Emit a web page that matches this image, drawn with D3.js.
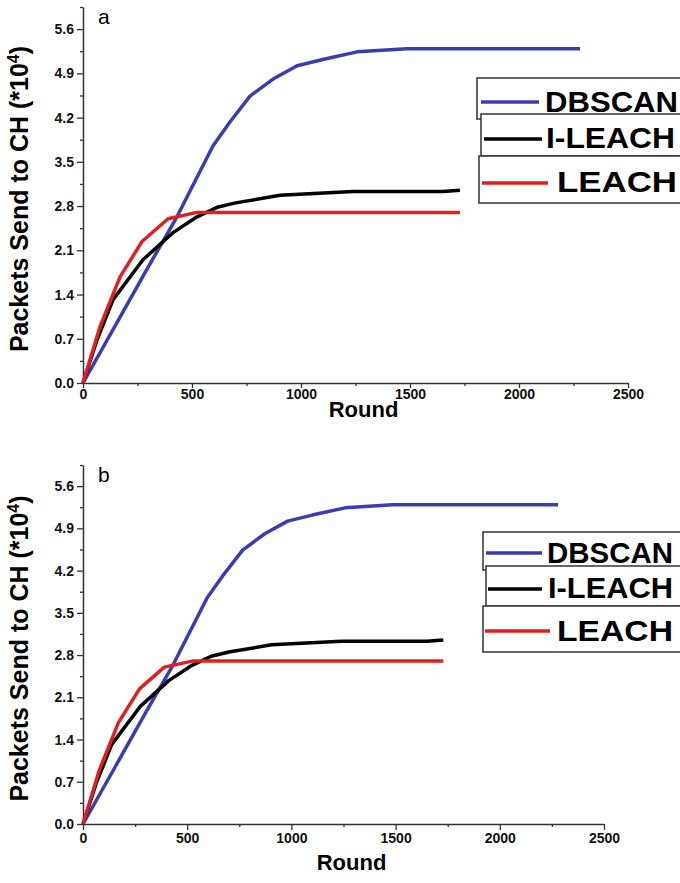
<!DOCTYPE html>
<html>
<head>
<meta charset="utf-8">
<script src="https://cdn.jsdelivr.net/npm/d3@7"></script>
<style>
  body { margin: 0; background: #fff; }
  svg { display: block; font-family: "Liberation Sans", Arial, sans-serif; }
</style>
</head>
<body>
<div id="chart"></div>
<script>
// values (rounds, packets x10^4)
var dbscanRound = [0, 150, 300, 431, 596, 674, 766, 872, 982, 1100, 1257, 1486, 1800, 2280];
var dbscanPkts  = [0, 0.92, 1.84, 2.63, 3.75, 4.13, 4.54, 4.81, 5.02, 5.12, 5.24, 5.29, 5.29, 5.29];

var ileachRound = [0, 64, 138, 275, 413, 523, 615, 700, 904, 1239, 1651, 1729];
var ileachPkts  = [0, 0.68, 1.32, 1.95, 2.38, 2.63, 2.78, 2.85, 2.97, 3.03, 3.03, 3.05];

var leachRound = [0, 78, 170, 271, 390, 523, 674, 1729];
var leachPkts  = [0, 0.89, 1.68, 2.24, 2.60, 2.70, 2.70, 2.70];

var seriesNames = ["DBSCAN", "I-LEACH", "LEACH"];
var xTicks = [0, 500, 1000, 1500, 2000, 2500];
var yTicks = [0.0, 0.7, 1.4, 2.1, 2.8, 3.5, 4.2, 4.9, 5.6];

var series = [
	{ name: seriesNames[0], color: "#3b3cb4", xs: dbscanRound, ys: dbscanPkts },
	{ name: seriesNames[1], color: "#000000", xs: ileachRound, ys: ileachPkts },
	{ name: seriesNames[2], color: "#e0201e", xs: leachRound, ys: leachPkts }
];

var svg = d3.select("#chart")
	.append("svg")
	.attr("width", 680)
	.attr("height", 883);

// one panel, both are the same data drawn at slightly different sizes
function panel(p) {
	var x = d3.scaleLinear().domain([0, 2500]).range([p.left, p.right]);
	var y = d3.scaleLinear().domain([0, 5.95]).range([p.bottom, p.top]);
	var g = svg.append("g");

	// minor ticks
	g.append("g")
		.attr("transform", "translate(0," + p.bottom + ")")
		.call(d3.axisBottom(x).tickValues([250, 750, 1250, 1750, 2250]).tickSize(3).tickFormat(""))
		.call(function(a) { a.select(".domain").remove(); });
	g.append("g")
		.attr("transform", "translate(" + p.left + ",0)")
		.call(d3.axisLeft(y).tickValues([0.35, 1.05, 1.75, 2.45, 3.15, 3.85, 4.55, 5.25, 5.95]).tickSize(3).tickFormat(""))
		.call(function(a) { a.select(".domain").remove(); });

	g.append("g")
		.attr("transform", "translate(0," + p.bottom + ")")
		.call(d3.axisBottom(x).tickValues(xTicks).tickSize(p.xTick).tickSizeOuter(0).tickPadding(p.xPad).tickFormat(d3.format("d")));
	g.append("g")
		.attr("transform", "translate(" + p.left + ",0)")
		.call(d3.axisLeft(y).tickValues(yTicks).tickSize(6).tickSizeOuter(0).tickPadding(3).tickFormat(d3.format(".1f")));

	g.selectAll(".tick line").attr("stroke", "#333").attr("stroke-width", 1.3);
	g.selectAll(".domain").attr("stroke", "#333").attr("stroke-width", 1.5);
	g.selectAll(".tick text")
		.attr("fill", "#111")
		.style("font-size", "14px")
		.style("font-weight", "bold");

	// axis titles
	g.append("text")
		.attr("x", (p.left + p.right) / 2 + 8)
		.attr("y", p.bottom + p.roundDy)
		.attr("text-anchor", "middle")
		.style("font-size", "22px")
		.style("font-weight", "bold")
		.text("Round");

	var yl = g.append("text")
		.attr("transform", "translate(28," + ((p.top + p.bottom) / 2 + 4) + ") rotate(-90)")
		.attr("text-anchor", "middle")
		.style("font-size", "25px")
		.style("font-weight", "bold");
	yl.append("tspan").text("Packets Send to CH (*10");
	yl.append("tspan").attr("dy", -9).style("font-size", "16px").text("4");
	yl.append("tspan").attr("dy", 9).text(")");

	g.append("text")
		.attr("x", p.left + 15)
		.attr("y", p.top + 17)
		.style("font-size", "21px")
		.text(p.label);

	var line = d3.line()
		.x(function(d) { return x(d[0]); })
		.y(function(d) { return y(d[1]); });

	series.forEach(function(s) {
		g.append("path")
			.datum(d3.zip(s.xs, s.ys))
			.attr("fill", "none")
			.attr("stroke", s.color)
			.attr("stroke-width", 3.5)
			.attr("stroke-linejoin", "round")
			.attr("d", line);
	});

	// legend: three staggered boxes, running off the right edge
	p.legend.forEach(function(L, i) {
		var s = series[i];
		g.append("rect")
			.attr("x", L.bx).attr("y", L.by)
			.attr("width", 700 - L.bx).attr("height", L.bh)
			.attr("fill", "#fff")
			.attr("stroke", "#333")
			.attr("stroke-width", 1.5);
		g.append("line")
			.attr("x1", L.lx1).attr("x2", L.lx2)
			.attr("y1", L.ly).attr("y2", L.ly)
			.attr("stroke", s.color)
			.attr("stroke-width", 3.5);
		g.append("text")
			.attr("x", L.tx).attr("y", L.ty)
			.attr("textLength", L.tw)
			.attr("lengthAdjust", "spacingAndGlyphs")
			.style("font-size", "30px")
			.style("font-weight", "bold")
			.text(s.name);
	});
}

panel({
	label: "a", left: 83, right: 628, top: 7, bottom: 383,
	xTick: 5, xPad: 1, roundDy: 34,
	legend: [
		{ bx: 477, by: 78, bh: 41, lx1: 481, lx2: 539, ly: 102, tx: 545, ty: 112, tw: 133 },
		{ bx: 481, by: 114, bh: 42, lx1: 484, lx2: 542, ly: 139, tx: 546, ty: 148, tw: 129 },
		{ bx: 479, by: 156, bh: 47, lx1: 482, lx2: 548, ly: 183, tx: 557, ty: 192, tw: 120 }
	]
});

panel({
	label: "b", left: 83, right: 604, top: 465, bottom: 824,
	xTick: 6, xPad: 3, roundDy: 46,
	legend: [
		{ bx: 483, by: 532, bh: 38, lx1: 486, lx2: 542, ly: 553, tx: 547, ty: 563, tw: 126 },
		{ bx: 486, by: 566, bh: 40, lx1: 488, lx2: 542, ly: 589, tx: 548, ty: 598, tw: 125 },
		{ bx: 483, by: 606, bh: 46, lx1: 485, lx2: 550, ly: 631, tx: 557, ty: 641, tw: 116 }
	]
});
</script>
</body>
</html>
